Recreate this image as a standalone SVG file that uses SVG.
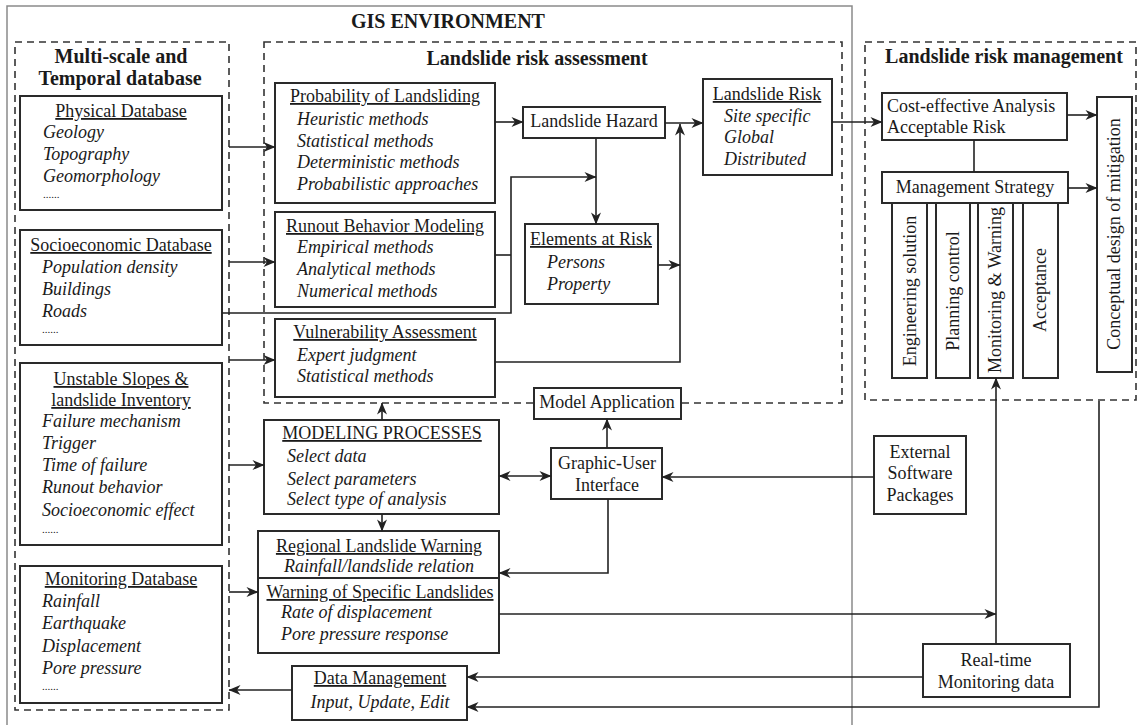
<svg xmlns="http://www.w3.org/2000/svg" width="1141" height="725" viewBox="0 0 1141 725">
<defs>
<style>
.box{fill:#fff;stroke:#2a2a2a;stroke-width:2}
.dash{fill:none;stroke:#333;stroke-width:1.6;stroke-dasharray:7,5}
.t{font-family:"Liberation Serif","Times New Roman",serif;font-size:18px;fill:#1a1a1a}
.h{font-weight:bold;font-size:20px}
.i{font-style:italic}
.u{text-decoration:underline}
.c{text-anchor:middle}
.ln{fill:none;stroke:#222;stroke-width:1.6}
.dots{font-size:11px}
</style>
<marker id="a" viewBox="0 0 12 10" refX="11.5" refY="5" markerWidth="13" markerHeight="10" markerUnits="userSpaceOnUse" orient="auto-start-reverse">
<path d="M0,0 L12,5 L0,10 L3.5,5 z" fill="#222"/>
</marker>
</defs>
<rect width="1141" height="725" fill="#fff"/>

<g id="gis-environment">
<path d="M7,725 V6 H852 V725" fill="none" stroke="#8a8a8a" stroke-width="1.5"/>
<text class="t h c" x="448" y="28">GIS ENVIRONMENT</text>
</g>

<g id="database-group">
<rect class="dash" x="15" y="42" width="214" height="668"/>
<text class="t h c" x="121" y="63">Multi-scale and</text>
<text class="t h c" x="120" y="85">Temporal database</text>
</g>

<g id="physical-db">
<rect class="box" x="20" y="96" width="202" height="114"/>
<text class="t u c" x="121" y="117">Physical Database</text>
<text class="t i" x="43" y="138">Geology</text>
<text class="t i" x="43" y="160">Topography</text>
<text class="t i" x="43" y="182">Geomorphology</text>
<text class="t dots" x="43" y="198">......</text>
</g>

<g id="socio-db">
<rect class="box" x="20" y="230" width="202" height="115"/>
<text class="t u c" x="121" y="251">Socioeconomic Database</text>
<text class="t i" x="42" y="273">Population density</text>
<text class="t i" x="42" y="295">Buildings</text>
<text class="t i" x="42" y="317">Roads</text>
<text class="t dots" x="42" y="333">......</text>
</g>

<g id="unstable-db">
<rect class="box" x="20" y="363" width="202" height="182"/>
<text class="t u c" x="121" y="385">Unstable Slopes &amp;</text>
<text class="t u c" x="121" y="406">landslide Inventory</text>
<text class="t i" x="42" y="427">Failure mechanism</text>
<text class="t i" x="42" y="449">Trigger</text>
<text class="t i" x="42" y="471">Time of failure</text>
<text class="t i" x="42" y="493">Runout behavior</text>
<text class="t i" x="42" y="516">Socioeconomic effect</text>
<text class="t dots" x="42" y="533">......</text>
</g>

<g id="monitoring-db">
<rect class="box" x="20" y="566" width="202" height="137"/>
<text class="t u c" x="121" y="585">Monitoring Database</text>
<text class="t i" x="42" y="607">Rainfall</text>
<text class="t i" x="42" y="629">Earthquake</text>
<text class="t i" x="42" y="652">Displacement</text>
<text class="t i" x="42" y="674">Pore pressure</text>
<text class="t dots" x="42" y="690">......</text>
</g>

<g id="assessment-group">
<rect class="dash" x="264" y="42" width="578" height="361"/>
<text class="t h c" x="537" y="65">Landslide risk assessment</text>
</g>

<g id="probability">
<rect class="box" x="275" y="83" width="220" height="120"/>
<text class="t u c" x="385" y="102">Probability of Landsliding</text>
<text class="t i" x="297" y="125">Heuristic methods</text>
<text class="t i" x="297" y="147">Statistical methods</text>
<text class="t i" x="297" y="168">Deterministic methods</text>
<text class="t i" x="297" y="190">Probabilistic approaches</text>
</g>

<g id="runout">
<rect class="box" x="275" y="212" width="220" height="95"/>
<text class="t u c" x="385" y="232">Runout Behavior Modeling</text>
<text class="t i" x="297" y="253">Empirical methods</text>
<text class="t i" x="297" y="275">Analytical methods</text>
<text class="t i" x="297" y="297">Numerical methods</text>
</g>

<g id="vulnerability">
<rect class="box" x="275" y="319" width="220" height="78"/>
<text class="t u c" x="385" y="338">Vulnerability Assessment</text>
<text class="t i" x="297" y="361">Expert judgment</text>
<text class="t i" x="297" y="382">Statistical methods</text>
</g>

<g id="hazard">
<rect class="box" x="523" y="107" width="142" height="31"/>
<text class="t c" x="594" y="127">Landslide Hazard</text>
</g>

<g id="risk">
<rect class="box" x="703" y="79" width="129" height="96"/>
<text class="t u c" x="767" y="100">Landslide Risk</text>
<text class="t i" x="724" y="122">Site specific</text>
<text class="t i" x="724" y="143">Global</text>
<text class="t i" x="724" y="165">Distributed</text>
</g>

<g id="elements">
<rect class="box" x="525" y="224" width="133" height="80"/>
<text class="t u c" x="591" y="245">Elements at Risk</text>
<text class="t i" x="547" y="268">Persons</text>
<text class="t i" x="547" y="290">Property</text>
</g>

<g id="modeling">
<rect class="box" x="264" y="420" width="235" height="94"/>
<text class="t u c" x="382" y="439">MODELING PROCESSES</text>
<text class="t i" x="287" y="462">Select data</text>
<text class="t i" x="287" y="485">Select parameters</text>
<text class="t i" x="287" y="505">Select type of analysis</text>
</g>

<g id="warning">
<rect class="box" x="258" y="531" width="241" height="122"/>
<line x1="258" y1="578" x2="499" y2="578" stroke="#2a2a2a" stroke-width="2"/>
<text class="t u c" x="379" y="552">Regional Landslide Warning</text>
<text class="t i c" x="379" y="572">Rainfall/landslide relation</text>
<text class="t u c" x="380" y="598">Warning of Specific Landslides</text>
<text class="t i" x="281" y="618">Rate of displacement</text>
<text class="t i" x="281" y="640">Pore pressure response</text>
</g>

<g id="data-management">
<rect class="box" x="292" y="666" width="175" height="54"/>
<text class="t u c" x="380" y="684">Data Management</text>
<text class="t i c" x="380" y="708">Input, Update, Edit</text>
</g>

<g id="model-application">
<rect class="box" x="534" y="388" width="147" height="31"/>
<text class="t c" x="607" y="408">Model Application</text>
</g>

<g id="gui">
<rect class="box" x="551" y="448" width="111" height="51"/>
<text class="t c" x="607" y="469">Graphic-User</text>
<text class="t c" x="607" y="491">Interface</text>
</g>

<g id="external">
<rect class="box" x="874" y="436" width="92" height="78"/>
<text class="t c" x="920" y="458">External</text>
<text class="t c" x="920" y="479">Software</text>
<text class="t c" x="920" y="501">Packages</text>
</g>

<g id="realtime">
<rect class="box" x="923" y="644" width="147" height="53"/>
<text class="t c" x="996" y="666">Real-time</text>
<text class="t c" x="996" y="688">Monitoring data</text>
</g>

<g id="management-group">
<rect class="dash" x="865" y="42" width="271" height="358"/>
<text class="t h c" x="1004" y="63">Landslide risk management</text>
</g>

<g id="cost-effective">
<rect class="box" x="882" y="93" width="185" height="47"/>
<text class="t" x="887" y="112">Cost-effective Analysis</text>
<text class="t" x="887" y="133">Acceptable Risk</text>
</g>

<g id="strategy">
<rect class="box" x="882" y="172" width="186" height="31"/>
<text class="t c" x="975" y="193">Management Strategy</text>
</g>

<g id="engineering">
<rect class="box" x="892" y="203" width="35" height="175"/>
<text class="t c" transform="translate(916,291) rotate(-90)">Engineering solution</text>
</g>
<g id="planning">
<rect class="box" x="936" y="203" width="34" height="175"/>
<text class="t c" transform="translate(959,291) rotate(-90)">Planning control</text>
</g>
<g id="monitoring-warning">
<rect class="box" x="978" y="203" width="35" height="175"/>
<text class="t c" transform="translate(1001,290) rotate(-90)">Monitoring &amp; Warning</text>
</g>
<g id="acceptance">
<rect class="box" x="1023" y="203" width="35" height="175"/>
<text class="t c" transform="translate(1046,290) rotate(-90)">Acceptance</text>
</g>
<g id="conceptual">
<rect class="box" x="1097" y="97" width="35" height="275"/>
<text class="t c" transform="translate(1120,234) rotate(-90)">Conceptual design of mitigation</text>
</g>

<g id="connectors">
<path class="ln" d="M229,147 H275" marker-end="url(#a)"/>
<path class="ln" d="M229,262 H275" marker-end="url(#a)"/>
<path class="ln" d="M229,360 H275" marker-end="url(#a)"/>
<path class="ln" d="M229,465 H264" marker-end="url(#a)"/>
<path class="ln" d="M229,592 H258" marker-end="url(#a)"/>
<path class="ln" d="M292,690 H229" marker-end="url(#a)"/>
<path class="ln" d="M495,122 H523" marker-end="url(#a)"/>
<path class="ln" d="M665,123 H703" marker-end="url(#a)"/>
<path class="ln" d="M596,138 V224" marker-end="url(#a)"/>
<path class="ln" d="M222,313 H511 V177 H596" marker-end="url(#a)"/>
<path class="ln" d="M495,255 H511"/>
<path class="ln" d="M495,362 H680 V124" marker-end="url(#a)"/>
<path class="ln" d="M658,265 H680" marker-end="url(#a)"/>
<path class="ln" d="M832,122 H882" marker-end="url(#a)"/>
<path class="ln" d="M1067,115 H1097" marker-end="url(#a)"/>
<path class="ln" d="M974,140 V172"/>
<path class="ln" d="M1068,188 H1097" marker-end="url(#a)"/>
<path class="ln" d="M382,420 V403" marker-end="url(#a)"/>
<path class="ln" d="M382,514 V531" marker-end="url(#a)"/>
<path class="ln" d="M499,476 H551" marker-start="url(#a)" marker-end="url(#a)"/>
<path class="ln" d="M874,477 H662" marker-end="url(#a)"/>
<path class="ln" d="M607,448 V419" marker-end="url(#a)"/>
<path class="ln" d="M608,499 V573 H499" marker-end="url(#a)"/>
<path class="ln" d="M499,614 H996" marker-end="url(#a)"/>
<path class="ln" d="M996,644 V378" marker-end="url(#a)"/>
<path class="ln" d="M923,677 H467" marker-end="url(#a)"/>
<path class="ln" d="M1099,401 V707 H467" marker-end="url(#a)"/>
</g>
</svg>
